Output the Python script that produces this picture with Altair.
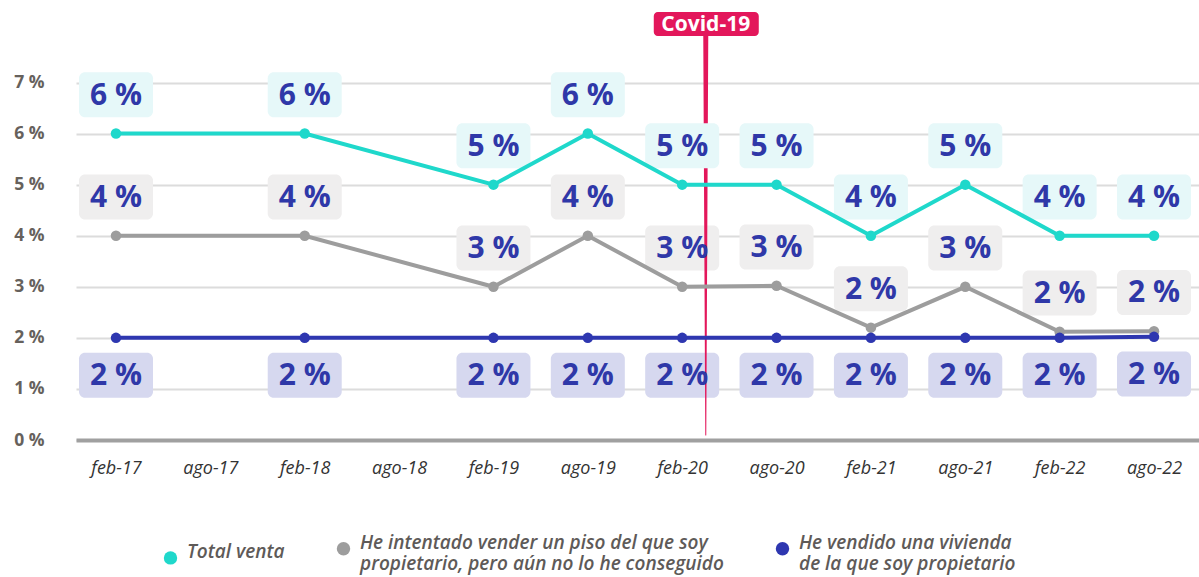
import altair as alt
import pandas as pd

# ---------------- data ----------------
periods = ["feb-17", "ago-17", "feb-18", "ago-18", "feb-19", "ago-19",
           "feb-20", "ago-20", "feb-21", "ago-21", "feb-22", "ago-22"]

series = [
    "Total venta",
    "He intentado vender un piso del que soy\npropietario, pero aún no lo he conseguido",
    "He vendido una vivienda\nde la que soy propietario",
]

total_venta = [6.0, None, 6.0, None, 5.0, 6.0, 5.0, 5.0, 4.0, 5.0, 4.0, 4.0]
intentado   = [4.0, None, 4.0, None, 3.0, 4.0, 3.0, 3.02, 2.2, 3.0, 2.12, 2.13]
vendido     = [2.0, None, 2.0, None, 2.0, 2.0, 2.0, 2.0, 2.0, 2.0, 2.0, 2.02]

y_ticks = [0, 1, 2, 3, 4, 5, 6, 7]
covid_label = "Covid-19"
covid_pos = 6.25  # between feb-20 and ago-20 (march 2020)

# ---------------- styles ----------------
line_colors = ["#1fd8cb", "#9d9d9d", "#2e37b0"]
box_colors = ["#e6f8f9", "#efeeee", "#d6d8ef"]
label_color = "#2f38a8"
covid_color = "#e3175b"

rows = []
for k, vals in enumerate([total_venta, intentado, vendido]):
    for i, v in enumerate(vals):
        if v is None:
            continue
        rows.append({
            "idx": i,
            "periodo": periods[i],
            "serie": series[k],
            "k": k,
            "valor": v,
            "txt": f"{round(v)} %",
        })
df = pd.DataFrame(rows)

px_per_unit_x = 94.37
x_dom = [-40 / px_per_unit_x, 11 + 45 / px_per_unit_x]
x_scale = alt.Scale(domain=x_dom, nice=False, zero=False)
y_scale = alt.Scale(domain=[0, 440 / 51.07], nice=False, zero=False)

label_expr_x = "[" + ",".join(f"'{p}'" for p in periods) + "][datum.value]"

x_axis = alt.Axis(values=list(range(len(periods))), labelExpr=label_expr_x,
                  grid=False, domain=True, domainColor="#a0a0a0", domainWidth=4,
                  ticks=False, labelPadding=19, labelFont="Open Sans",
                  labelFontStyle="italic", labelFontSize=18, labelColor="#333333",
                  title=None)
y_axis = alt.Axis(values=y_ticks, labelExpr="datum.value + ' %'", grid=True,
                  gridColor="#dcdcdc", gridWidth=2, domain=False, ticks=False,
                  labelPadding=32, labelFont="Open Sans", labelFontWeight="bold",
                  labelFontSize=17.5, labelColor="#66615c", title=None)

base = alt.Chart(df)

X = alt.X("idx:Q", scale=x_scale, axis=x_axis)
Y = alt.Y("valor:Q", scale=y_scale, axis=y_axis)

# label position (above the point; below for the last series)
base_lab = base.transform_calculate(
    ly="datum.k == 2 ? datum.valor - 0.73 : datum.valor + 0.76"
)

def boxes(k):
    return base_lab.transform_filter(f"datum.k == {k}").mark_rect(
        cornerRadius=6, xOffset=-37, x2Offset=37, yOffset=-22.5, y2Offset=22.5,
        color=box_colors[k]
    ).encode(
        x=alt.X("idx:Q", scale=x_scale, axis=x_axis),
        x2="idx:Q",
        y=alt.Y("ly:Q", scale=y_scale, axis=y_axis),
        y2="ly:Q",
    )

cscale = alt.Scale(domain=series, range=line_colors)

covid_df = pd.DataFrame({"x": [covid_pos, covid_pos], "y": [7.91, 0.1],
                         "w": [5, 1], "o": [0, 1]})
covid_line = alt.Chart(covid_df).mark_trail(color=covid_color).encode(
    x=alt.X("x:Q", scale=x_scale, axis=x_axis),
    y=alt.Y("y:Q", scale=y_scale, axis=y_axis),
    size=alt.Size("w:Q", scale=None, legend=None),
    order=alt.Order("o:Q"),
)

covid_tag_df = pd.DataFrame({"x": [covid_pos], "y": [8.146], "t": [covid_label]})
covid_box = alt.Chart(covid_tag_df).mark_rect(
    cornerRadius=4, color=covid_color, xOffset=-52, x2Offset=53, yOffset=-12, y2Offset=12
).encode(
    x=alt.X("x:Q", scale=x_scale, axis=x_axis), x2="x:Q",
    y=alt.Y("y:Q", scale=y_scale, axis=y_axis), y2="y:Q",
)
covid_text = alt.Chart(covid_tag_df).mark_text(
    font="Open Sans", fontWeight="bold", fontSize=21, color="white", baseline="middle", dy=1
).encode(
    x=alt.X("x:Q", scale=x_scale, axis=x_axis),
    y=alt.Y("y:Q", scale=y_scale, axis=y_axis),
    text="t:N",
)

def line(k):
    return base.transform_filter(f"datum.k == {k}").mark_line(
        strokeWidth=4, color=line_colors[k]
    ).encode(x=X, y=Y, order="idx:Q")

points = base.mark_circle(size=110, opacity=1).encode(
    x=X, y=Y,
    color=alt.Color("serie:N", scale=cscale, legend=alt.Legend(
        title=None, orient="none", legendX=85, legendY=539, direction="horizontal",
        columns=3, columnPadding=49, symbolType="circle", symbolSize=180,
        symbolStrokeWidth=0, labelFont="Open Sans", labelFontStyle="italic",
        labelFontWeight=600, labelFontSize=19, labelColor="#5e5a58",
        labelLimit=800, labelOffset=7, labelBaseline="alphabetic",
        labelExpr="split(datum.label, '\\n')",
        padding=0,
    )),
)

texts = base_lab.mark_text(
    font="Open Sans", fontWeight="bold", fontSize=30, color=label_color, baseline="middle", dy=1
).encode(
    x=alt.X("idx:Q", scale=x_scale, axis=x_axis),
    y=alt.Y("ly:Q", scale=y_scale, axis=y_axis),
    text="txt:N",
)

chart = alt.layer(
    boxes(1), boxes(2), covid_line, boxes(0),
    line(1), line(0), line(2), points, texts, covid_box, covid_text
).properties(
    width=1123, height=440,
    padding={"left": 76, "top": 0, "right": 0, "bottom": 137},
    autosize=alt.AutoSizeParams(type="none"),
).configure_view(stroke=None)

chart.save("out.html", embed_options={"renderer": "svg", "actions": False})
